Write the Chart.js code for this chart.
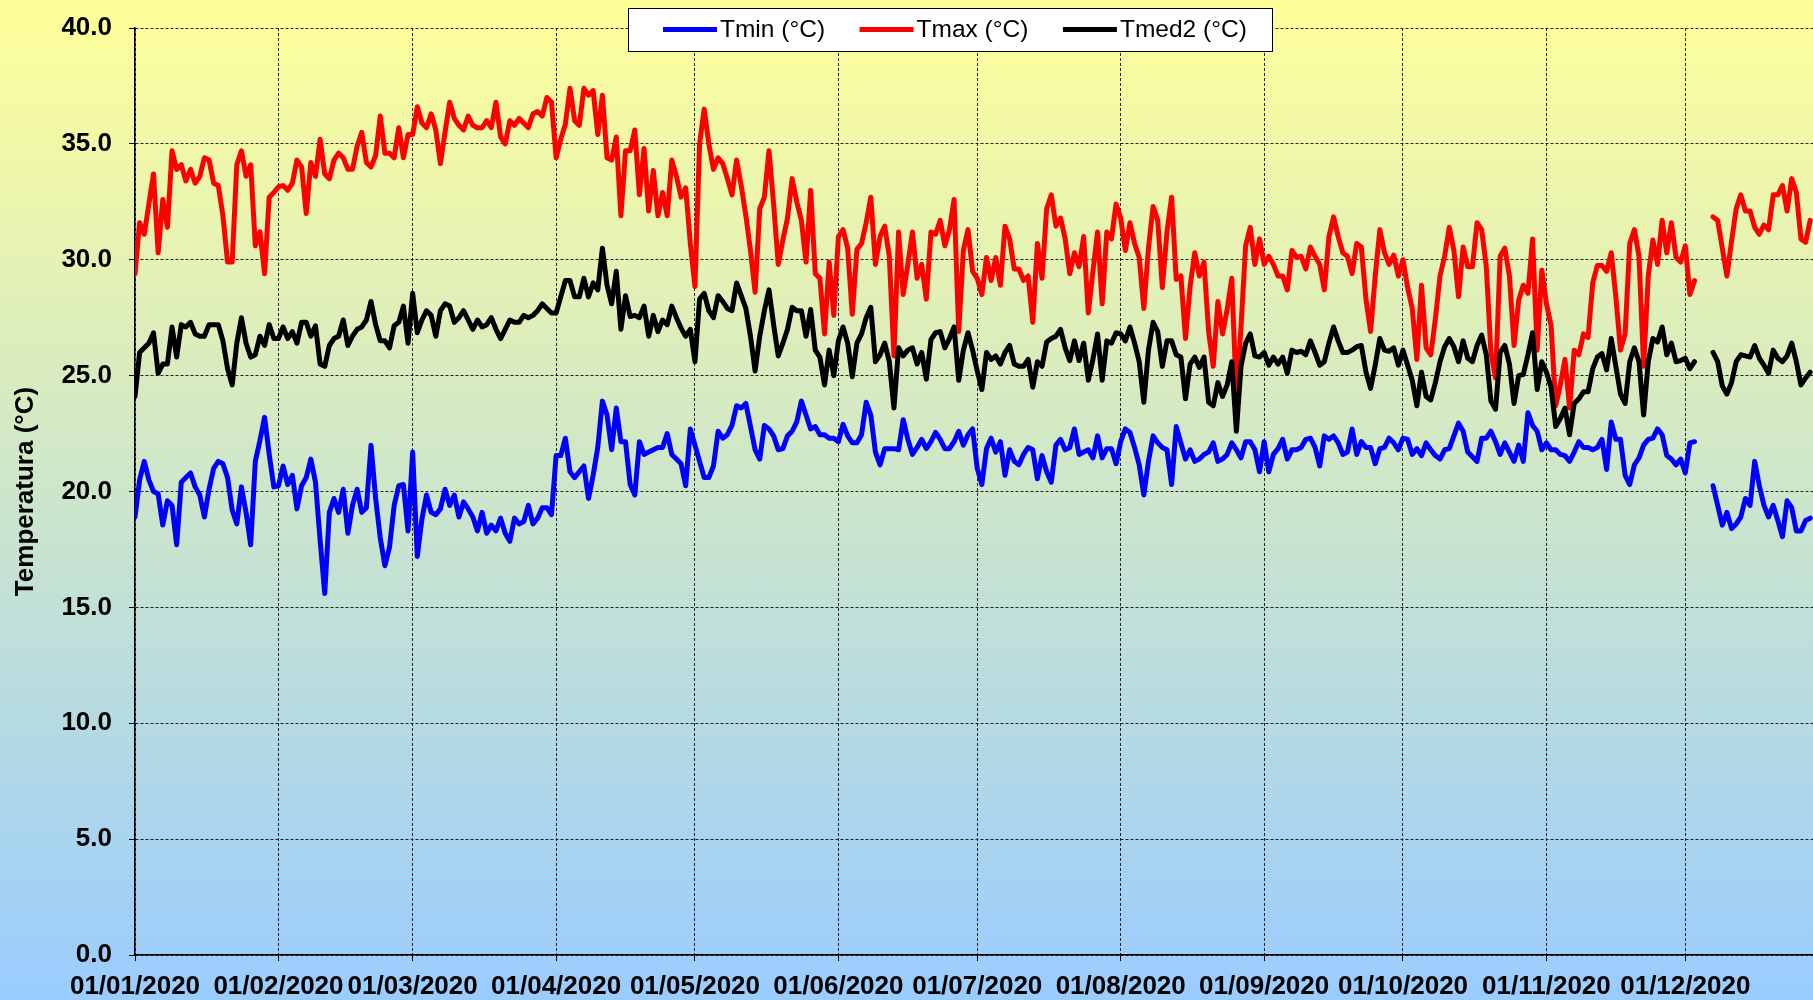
<!DOCTYPE html>
<html>
<head>
<meta charset="utf-8">
<title>Temperatura 2020</title>
<script src="https://cdn.jsdelivr.net/npm/chart.js@4.4.0/dist/chart.umd.min.js"></script>
<style>
  html, body { margin: 0; padding: 0; }
  body {
    width: 1813px;
    height: 1000px;
    overflow: hidden;
    background: linear-gradient(to bottom, #ffff99 0%, #99ccff 100%);
  }
  #wrap { position: relative; width: 1813px; height: 1000px; }
</style>
</head>
<body>
<div id="wrap"><canvas id="tempChart" width="1813" height="1000"></canvas></div>
<script>
// Daily values for 2020, one row per month (Dec 4-6 missing, view ends on Dec 28)
const tmin = [
  18.9, 20.5, 21.3, 20.5, 20.0, 19.9, 18.55, 19.6, 19.4, 17.7, 20.4, 20.6, 20.8, 20.2, 19.85, 18.9, 20.1, 21.0, 21.3, 21.2, 20.6, 19.2, 18.6, 20.2, 19.1, 17.7, 21.3, 22.2, 23.2, 21.6, 20.2,
  20.25, 21.1, 20.3, 20.7, 19.25, 20.25, 20.6, 21.4, 20.4, 17.9, 15.6, 19.1, 19.7, 19.1, 20.1, 18.2, 19.4, 20.1, 19.1, 19.3, 22.0, 19.7, 18.0, 16.8, 17.6, 19.4, 20.25, 20.3, 18.3,
  21.7, 17.2, 18.8, 19.85, 19.1, 19.0, 19.25, 20.1, 19.4, 19.85, 18.9, 19.55, 19.25, 18.9, 18.3, 19.1, 18.2, 18.55, 18.3, 18.85, 18.2, 17.85, 18.85, 18.6, 18.7, 19.4, 18.6, 18.85, 19.3, 19.3, 19.0,
  21.55, 21.55, 22.3, 20.85, 20.6, 20.85, 21.1, 19.7, 20.7, 21.9, 23.9, 23.3, 21.8, 23.6, 22.15, 22.15, 20.3, 19.85, 22.15, 21.6, 21.7, 21.8, 21.9, 21.9, 22.5, 21.6, 21.4, 21.2, 20.25, 22.7,
  22.0, 21.3, 20.6, 20.6, 21.1, 22.6, 22.3, 22.45, 22.85, 23.7, 23.6, 23.8, 22.8, 21.8, 21.4, 22.85, 22.7, 22.4, 21.8, 21.85, 22.4, 22.6, 23.0, 23.9, 23.3, 22.7, 22.8, 22.45, 22.45, 22.3, 22.3,
  22.15, 22.9, 22.4, 22.1, 22.1, 22.45, 23.85, 23.3, 21.7, 21.15, 21.85, 21.85, 21.85, 21.8, 23.1, 22.25, 21.6, 21.9, 22.25, 21.85, 22.15, 22.55, 22.25, 21.85, 21.85, 22.15, 22.6, 22.0, 22.45, 22.7,
  21.0, 20.3, 21.85, 22.3, 21.7, 22.15, 20.7, 21.8, 21.3, 21.15, 21.6, 21.9, 21.8, 20.55, 21.55, 20.85, 20.4, 22.0, 22.25, 21.8, 21.9, 22.7, 21.6, 21.7, 21.8, 21.45, 22.4, 21.45, 21.85, 21.85, 21.2,
  22.15, 22.7, 22.55, 21.9, 21.15, 19.85, 21.3, 22.4, 22.1, 21.9, 21.8, 20.3, 22.8, 22.1, 21.4, 21.8, 21.3, 21.4, 21.6, 21.7, 22.1, 21.3, 21.4, 21.6, 22.1, 21.8, 21.45, 22.15, 22.15, 21.8, 20.85,
  22.15, 20.85, 21.6, 21.85, 22.25, 21.4, 21.8, 21.8, 21.9, 22.25, 22.3, 21.9, 21.1, 22.4, 22.25, 22.4, 22.1, 21.6, 21.7, 22.7, 21.6, 22.15, 21.9, 21.9, 21.2, 21.85, 21.9, 22.3, 22.1, 21.8,
  22.3, 22.25, 21.6, 21.85, 21.55, 22.1, 21.8, 21.55, 21.4, 21.8, 21.85, 22.4, 22.95, 22.6, 21.7, 21.5, 21.3, 22.3, 22.3, 22.6, 22.15, 21.6, 22.1, 21.7, 21.3, 22.0, 21.3, 23.4, 22.85, 22.6, 21.8,
  22.1, 21.8, 21.8, 21.6, 21.55, 21.3, 21.7, 22.15, 21.9, 21.9, 21.8, 21.9, 22.25, 20.95, 23.0, 22.25, 22.25, 20.7, 20.3, 21.15, 21.45, 22.0, 22.25, 22.3, 22.7, 22.45, 21.55, 21.4, 21.15, 21.4,
  20.8, 22.1, 22.15, null, null, null, 20.25, 19.4, 18.55, 19.1, 18.4, 18.6, 18.9, 19.7, 19.4, 21.3, 20.25, 19.4, 18.9, 19.4, 18.75, 18.05, 19.6, 19.3, 18.3, 18.3, 18.75, 18.85
];

const tmax = [
  29.4, 31.6, 31.1, 32.4, 33.7, 30.3, 32.6, 31.4, 34.7, 33.9, 34.1, 33.4, 33.9, 33.3, 33.6, 34.4, 34.3, 33.3, 33.2, 31.9, 29.9, 29.9, 34.1, 34.7, 33.6, 34.1, 30.6, 31.2, 29.4, 32.7, 32.9,
  33.15, 33.2, 33.0, 33.3, 34.3, 34.0, 32.0, 34.2, 33.6, 35.2, 33.7, 33.5, 34.3, 34.6, 34.4, 33.9, 33.9, 34.9, 35.5, 34.2, 34.0, 34.5, 36.2, 34.6, 34.6, 34.4, 35.7, 34.4, 35.4,
  35.4, 36.6, 35.9, 35.7, 36.3, 35.6, 34.15, 35.5, 36.8, 36.1, 35.8, 35.6, 36.2, 35.8, 35.7, 35.7, 36.0, 35.7, 36.8, 35.3, 35.0, 36.0, 35.8, 36.1, 35.9, 35.7, 36.3, 36.4, 36.2, 37.0, 36.8,
  34.4, 35.2, 35.85, 37.4, 36.0, 35.8, 37.4, 37.1, 37.3, 35.4, 37.1, 34.4, 34.3, 35.3, 31.9, 34.7, 34.7, 35.6, 32.8, 34.8, 32.1, 33.85, 31.9, 32.9, 31.9, 34.3, 33.6, 32.7, 33.1, 30.7,
  28.85, 35.0, 36.5, 35.0, 33.9, 34.4, 34.15, 33.5, 32.8, 34.3, 33.2, 31.9, 30.4, 28.6, 32.2, 32.7, 34.7, 32.4, 29.8, 30.85, 31.8, 33.5, 32.5, 31.7, 29.9, 33.0, 29.4, 29.2, 26.8, 29.9, 27.6,
  31.0, 31.3, 30.5, 27.65, 30.45, 30.7, 31.6, 32.7, 29.8, 31.0, 31.45, 30.15, 25.85, 31.2, 28.5, 29.8, 31.2, 29.2, 29.8, 28.3, 31.2, 31.1, 31.7, 30.6, 31.3, 32.6, 26.9, 30.4, 31.3, 29.5,
  29.2, 28.5, 30.1, 29.1, 30.1, 28.9, 31.45, 30.9, 29.6, 29.6, 29.1, 29.3, 27.3, 30.7, 29.2, 32.2, 32.8, 31.45, 31.8, 30.9, 29.4, 30.3, 29.7, 31.0, 27.7, 29.5, 31.2, 28.1, 31.2, 30.9, 32.4,
  31.8, 30.4, 31.6, 30.7, 30.1, 27.9, 30.5, 32.3, 31.7, 28.8, 31.2, 32.7, 29.15, 29.3, 26.6, 28.85, 30.3, 29.3, 29.9, 26.9, 25.4, 28.2, 26.8, 27.85, 29.2, 24.1, 27.1, 30.6, 31.4, 29.8, 30.9,
  29.8, 30.15, 29.8, 29.3, 29.3, 28.7, 30.4, 30.1, 30.15, 29.6, 30.55, 30.15, 29.8, 28.7, 31.0, 31.85, 31.0, 30.3, 30.15, 29.4, 30.7, 30.55, 28.3, 26.9, 29.3, 31.3, 30.3, 29.8, 30.2, 29.3,
  30.0, 28.8, 27.9, 25.7, 28.9, 26.2, 25.9, 27.45, 29.3, 30.15, 31.4, 30.4, 28.4, 30.55, 29.7, 29.7, 31.6, 31.3, 29.7, 26.0, 24.9, 30.15, 30.5, 29.3, 26.3, 28.25, 28.9, 28.55, 30.9, 26.1, 29.55,
  28.1, 27.15, 23.7, 24.6, 25.7, 23.6, 26.1, 25.9, 26.8, 26.65, 29.0, 29.75, 29.75, 29.5, 30.3, 28.4, 26.1, 26.8, 30.7, 31.3, 30.15, 25.4, 29.3, 30.85, 29.8, 31.7, 30.3, 31.6, 30.1, 29.9,
  30.6, 28.5, 29.1, null, null, null, 31.85, 31.7, 30.5, 29.3, 30.8, 32.2, 32.8, 32.1, 32.1, 31.4, 31.1, 31.5, 31.3, 32.8, 32.8, 33.2, 32.1, 33.5, 32.9, 30.9, 30.75, 31.7
];

const tmed2 = [
  24.1, 26.0, 26.2, 26.4, 26.85, 25.1, 25.5, 25.5, 27.1, 25.8, 27.2, 27.1, 27.3, 26.8, 26.7, 26.7, 27.2, 27.2, 27.2, 26.5, 25.3, 24.6, 26.4, 27.5, 26.4, 25.8, 25.9, 26.7, 26.3, 27.2, 26.6,
  26.6, 27.1, 26.6, 26.9, 26.4, 27.3, 27.3, 26.7, 27.15, 25.5, 25.4, 26.3, 26.6, 26.7, 27.4, 26.3, 26.7, 27.0, 27.1, 27.4, 28.2, 27.2, 26.5, 26.5, 26.2, 27.15, 27.3, 28.0, 26.4,
  28.55, 26.85, 27.4, 27.8, 27.6, 26.7, 27.8, 28.1, 28.0, 27.3, 27.5, 27.8, 27.4, 27.0, 27.4, 27.1, 27.2, 27.5, 27.0, 26.6, 27.0, 27.4, 27.3, 27.3, 27.6, 27.5, 27.6, 27.8, 28.1, 27.9, 27.7,
  27.7, 28.4, 29.1, 29.1, 28.4, 28.4, 29.2, 28.4, 29.0, 28.7, 30.5, 28.9, 28.1, 29.5, 27.0, 28.45, 27.55, 27.6, 27.5, 28.0, 26.7, 27.6, 26.9, 27.4, 27.2, 28.0, 27.5, 27.05, 26.7, 27.0,
  25.6, 28.3, 28.55, 27.8, 27.5, 28.45, 28.2, 27.9, 27.8, 29.0, 28.45, 27.9, 26.7, 25.2, 26.7, 27.8, 28.7, 27.2, 25.85, 26.4, 27.0, 27.95, 27.8, 27.8, 26.7, 27.85, 26.1, 25.8, 24.6, 26.1, 25.0,
  26.5, 27.1, 26.4, 24.95, 26.4, 26.8, 27.5, 27.95, 25.6, 25.9, 26.4, 25.6, 23.6, 26.2, 25.85, 26.1, 26.2, 25.5, 26.0, 24.85, 26.55, 26.85, 26.9, 26.2, 26.6, 27.1, 24.8, 26.1, 26.85, 26.1,
  25.2, 24.4, 26.0, 25.7, 25.85, 25.5, 26.0, 26.3, 25.5, 25.4, 25.4, 25.7, 24.5, 25.6, 25.4, 26.45, 26.6, 26.7, 27.0, 26.2, 25.65, 26.5, 25.65, 26.4, 24.8, 25.7, 26.8, 24.8, 26.5, 26.4, 26.85,
  26.8, 26.5, 27.1, 26.4, 25.6, 23.85, 26.1, 27.3, 26.9, 25.4, 26.5, 26.5, 25.9, 25.8, 24.0, 25.5, 25.8, 25.35, 25.8, 23.85, 23.7, 24.7, 24.1, 24.6, 25.6, 22.6, 25.4, 26.4, 26.8, 25.85, 25.8,
  26.0, 25.45, 25.8, 25.5, 25.8, 25.1, 26.1, 26.0, 26.05, 25.9, 26.5, 26.0, 25.45, 25.6, 26.4, 27.1, 26.5, 26.0, 26.0, 26.1, 26.25, 26.3, 25.15, 24.45, 25.45, 26.6, 26.1, 26.05, 26.2, 25.45,
  26.1, 25.45, 24.8, 23.7, 25.15, 24.1, 23.95, 24.7, 25.6, 26.25, 26.6, 26.25, 25.6, 26.5, 25.75, 25.6, 26.3, 26.75, 25.9, 23.9, 23.55, 26.0, 26.3, 25.5, 23.8, 25.0, 25.05, 25.9, 26.85, 24.4, 25.6,
  25.15, 24.5, 22.8, 23.15, 23.6, 22.45, 23.8, 24.0, 24.3, 24.3, 25.3, 25.8, 25.95, 25.25, 26.6, 25.4, 24.2, 23.8, 25.6, 26.2, 25.6, 23.3, 25.6, 26.6, 26.45, 27.1, 25.9, 26.4, 25.6, 25.65,
  25.75, 25.3, 25.6, null, null, null, 26.0, 25.6, 24.55, 24.2, 24.7, 25.6, 25.9, 25.85, 25.8, 26.3, 25.75, 25.45, 25.1, 26.1, 25.75, 25.6, 25.85, 26.4, 25.6, 24.6, 24.9, 25.15
];

const seriesLabels = ["Tmin (°C)", "Tmax (°C)", "Tmed2 (°C)"];
// day index (0 = 01/01/2020) of each month start, and its label
const monthStarts = [0, 31, 60, 91, 121, 152, 182, 213, 244, 274, 305, 335];
const xTickLabels = [
  "01/01/2020", "01/02/2020", "01/03/2020", "01/04/2020", "01/05/2020", "01/06/2020",
  "01/07/2020", "01/08/2020", "01/09/2020", "01/10/2020", "01/11/2020", "01/12/2020"
];

const FONT = "'Liberation Sans', Arial, sans-serif";

const toPoints = (arr) => arr.map((v, i) => ({ x: i, y: v }));

// Excel-style boxed legend drawn on top of the grid
const boxLegend = {
  id: "boxLegend",
  afterDraw(chart) {
    const ctx = chart.ctx;
    const box = { left: 628, top: 8, width: 644, height: 43 };
    const y = box.top + box.height / 2;
    ctx.save();
    ctx.fillStyle = "#ffffff";
    ctx.fillRect(box.left, box.top, box.width, box.height);
    ctx.strokeStyle = "#000000";
    ctx.lineWidth = 1;
    ctx.strokeRect(box.left + 0.5, box.top + 0.5, box.width, box.height);

    ctx.font = "24.5px " + FONT;
    ctx.textBaseline = "middle";
    let x = box.left + 35;
    chart.data.datasets.forEach((ds) => {
      ctx.strokeStyle = ds.borderColor;
      ctx.lineWidth = ds.borderWidth;
      ctx.beginPath();
      ctx.moveTo(x, y);
      ctx.lineTo(x + 54, y);
      ctx.stroke();
      x += 57;
      ctx.fillStyle = "#000000";
      ctx.fillText(ds.label, x, y + 1);
      x += ctx.measureText(ds.label).width + 34.5;
    });
    ctx.restore();
  },
};

const tickFont = { family: FONT, size: 26, weight: "bold" };

const ctx = document.getElementById("tempChart").getContext("2d");
new Chart(ctx, {
  type: "line",
  data: {
    datasets: [
      { label: seriesLabels[0], data: toPoints(tmin), borderColor: "#0000ff", borderWidth: 5, order: 3 },
      { label: seriesLabels[1], data: toPoints(tmax), borderColor: "#ff0000", borderWidth: 5, order: 2 },
      { label: seriesLabels[2], data: toPoints(tmed2), borderColor: "#000000", borderWidth: 5, order: 1 },
    ],
  },
  options: {
    responsive: false,
    animation: false,
    layout: { padding: { top: 28, left: 0, right: 0, bottom: 0 } },
    elements: {
      point: { radius: 0 },
      line: { tension: 0, borderJoinStyle: "round", borderCapStyle: "round" },
    },
    plugins: {
      legend: { display: false },
      tooltip: { enabled: false },
    },
    scales: {
      x: {
        type: "linear",
        min: 0,
        max: 362.6,
        afterBuildTicks: (scale) => {
          scale.ticks = monthStarts.map((v) => ({ value: v }));
        },
        afterFit: (scale) => {
          scale.height = 45;
        },
        ticks: {
          autoSkip: false,
          maxRotation: 0,
          padding: 10,
          color: "#000000",
          font: tickFont,
          callback: (value, index) => xTickLabels[index],
        },
        grid: {
          color: "rgba(0,0,0,0.85)",
          lineWidth: 1,
          tickLength: 6,
          tickColor: "#000000",
          tickBorderDash: [],
        },
        border: { color: "#000000", width: 1.5, dash: [3, 2] },
      },
      y: {
        min: 0,
        max: 40,
        afterFit: (scale) => {
          scale.width = 135;
          // keep the top label from pushing the plot area down
          scale.paddingTop = 10;
          scale.paddingBottom = 10;
        },
        ticks: {
          stepSize: 5,
          padding: 17,
          color: "#000000",
          font: tickFont,
          callback: (value) => value.toFixed(1),
        },
        title: {
          display: true,
          text: "Temperatura (°C)",
          color: "#000000",
          padding: { top: 10, bottom: 0 },
          font: { family: FONT, size: 26, weight: "bold" },
        },
        grid: {
          color: "rgba(0,0,0,0.85)",
          lineWidth: 1,
          tickLength: 6,
          tickColor: "#000000",
          tickBorderDash: [],
        },
        border: { color: "#000000", width: 1.5, dash: [3, 2] },
      },
    },
  },
  plugins: [boxLegend],
});
</script>
</body>
</html>
